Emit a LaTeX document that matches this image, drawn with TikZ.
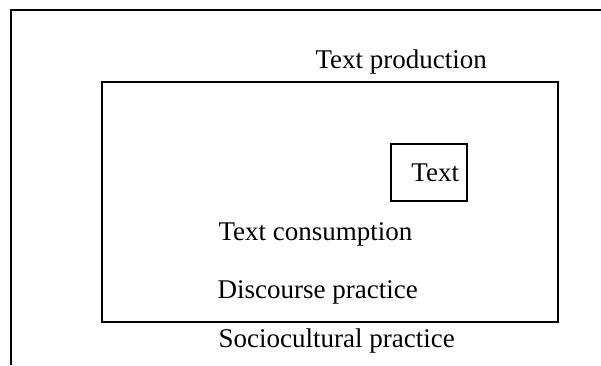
\documentclass[tikz,border=0pt]{standalone}
\usepackage{fontspec}
\setmainfont{Liberation Serif}
\usetikzlibrary{positioning}

\begin{document}
\begin{tikzpicture}[x=1pt, y=-1pt, line width=1.2pt,
    every node/.style={font=\fontsize{27}{32}\selectfont},
    lbl/.style={anchor=base west, inner sep=0pt},
    frame/.style={draw, inner sep=0pt}]
        \useasboundingbox (0,0) rectangle (601,365);
        % sociocultural frame (cut off at right and bottom)
        \draw (11,365) -- (11,10) -- (601,10);
        \node[frame, minimum width=456pt, minimum height=240pt] (dp) at (330,202) {};
        \node[frame, minimum width=76pt, minimum height=57pt, text width=60pt, align=right, inner xsep=8pt] (txt) at (429,172.5) {Text};
        \node[lbl] (prod) at (315,68) {Text production};
        \node[lbl] (cons) at (218,240) {Text consumption};
        \node[lbl] (disc) at (217,298) {Discourse practice};
        \node[lbl] (socio) at (218,347) {Sociocultural practice};
      \end{tikzpicture}
\end{document}
